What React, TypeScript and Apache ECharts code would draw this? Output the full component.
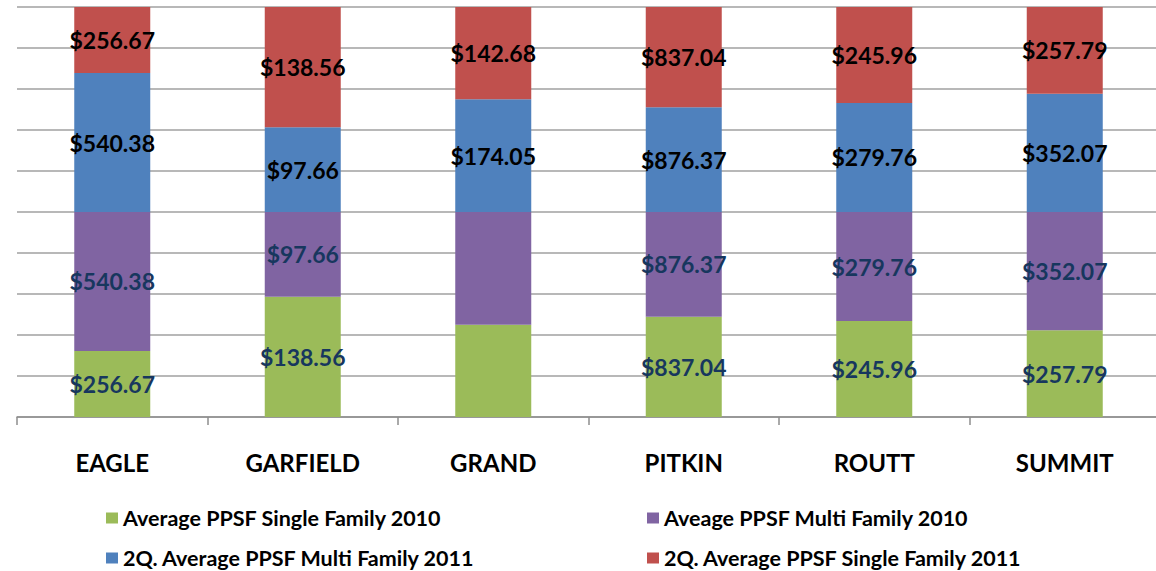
import React, { useEffect, useRef } from "react";
import * as echarts from "echarts";

const categories = ["EAGLE", "GARFIELD", "GRAND", "PITKIN", "ROUTT", "SUMMIT"];
const singleFamily2010 = [256.67, 138.56, 142.68, 837.04, 245.96, 257.79];
const multiFamily2010 = [540.38, 97.66, 174.05, 876.37, 279.76, 352.07];
const multiFamily2011 = [540.38, 97.66, 174.05, 876.37, 279.76, 352.07];
const singleFamily2011 = [256.67, 138.56, 142.68, 837.04, 245.96, 257.79];
// labels that are not shown in the reference (GRAND, lower two segments)
const hiddenSingle2010 = ["GRAND"];
const hiddenMulti2010 = ["GRAND"];

const seriesNames = [
  "Average PPSF Single Family 2010",
  "Aveage PPSF Multi Family 2010",
  "2Q. Average PPSF Multi Family 2011",
  "2Q. Average PPSF Single Family 2011",
];
const colors = ["#9BBB59", "#8064A2", "#4F81BD", "#C0504D"];
const labelColors = ["#17375E", "#17375E", "#000000", "#000000"];

export default function App() {
  const ref = useRef<HTMLDivElement>(null);
  useEffect(() => {
    document.body.style.overflow = "hidden";
    const chart = echarts.init(ref.current!, null, { renderer: "svg" });
    const raw = [singleFamily2010, multiFamily2010, multiFamily2011, singleFamily2011];
    const hidden = [hiddenSingle2010, hiddenMulti2010, [], []];
    const totals = categories.map((_, i) => raw.reduce((s, arr) => s + arr[i], 0));
    const font = "Lato, 'Open Sans', sans-serif";
    const series = raw.map((arr, si) => ({
      name: seriesNames[si],
      type: "bar",
      stack: "all",
      barWidth: 76,
      itemStyle: { color: colors[si] },
      data: arr.map((v, i) => ({
        value: (v / totals[i]) * 100,
        raw: v,
        label: { show: !(hidden[si] as string[]).includes(categories[i]) },
      })),
      label: {
        show: true,
        position: "inside",
        color: labelColors[si],
        fontFamily: font,
        fontWeight: "bold",
        fontSize: 23,
        formatter: (p: any) => "$" + p.data.raw.toFixed(2),
      },
    }));
    const legendBase = {
      padding: 0,
      itemWidth: 12,
      itemHeight: 11,
      icon: "rect",
      textStyle: { fontFamily: font, fontWeight: "bold", fontSize: 21.5, color: "#000" },
    };
    chart.setOption({
      animation: false,
      color: colors,
      grid: { left: 17, right: 0, top: 7, bottom: 154, containLabel: false },
      legend: [
        { ...legendBase, data: [seriesNames[0]], left: 106, top: 507 },
        { ...legendBase, data: [seriesNames[1]], left: 647, top: 507 },
        { ...legendBase, data: [seriesNames[2]], left: 106, top: 547 },
        { ...legendBase, data: [seriesNames[3]], left: 647, top: 547 },
      ],
      xAxis: {
        type: "category",
        data: categories,
        axisLine: { lineStyle: { color: "#8E8E8E", width: 1.5 } },
        axisTick: { show: true, length: 8, lineStyle: { color: "#8E8E8E", width: 1.5 } },
        axisLabel: {
          margin: 33,
          color: "#000",
          fontFamily: font,
          fontWeight: "bold",
          fontSize: 24,
        },
      },
      yAxis: {
        type: "value",
        min: 0,
        max: 100,
        interval: 10,
        axisLabel: { show: false },
        axisLine: { show: false },
        axisTick: { show: false },
        splitLine: { lineStyle: { color: "#A0A0A0", width: 1.5 } },
      },
      series,
    });
    return () => chart.dispose();
  }, []);
  return (
    <div
      ref={ref}
      style={{ position: "absolute", left: 0, top: 0, width: 1160, height: 571 }}
    />
  );
}
